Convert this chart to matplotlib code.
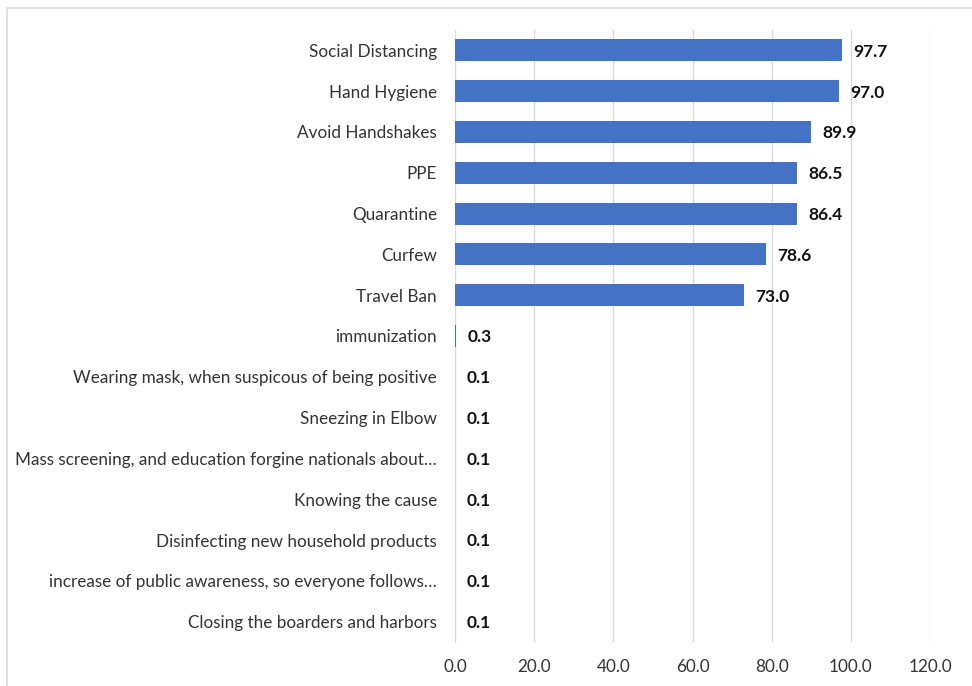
import matplotlib.pyplot as plt
from matplotlib.patches import Rectangle

measures = [
    'Social Distancing',
    'Hand Hygiene',
    'Avoid Handshakes',
    'PPE',
    'Quarantine',
    'Curfew',
    'Travel Ban',
    'immunization',
    'Wearing mask, when suspicous of being positive',
    'Sneezing in Elbow',
    'Mass screening, and education forgine nationals about\u2026',
    'Knowing the cause',
    'Disinfecting new household products',
    'increase of public awareness, so everyone follows\u2026',
    'Closing the boarders and harbors',
]
percent = [97.7, 97.0, 89.9, 86.5, 86.4, 78.6, 73.0, 0.3, 0.1, 0.1, 0.1, 0.1, 0.1, 0.1, 0.1]
xticks = [0, 20, 40, 60, 80, 100, 120]

plt.rcParams['font.family'] = ['Lato', 'DejaVu Sans']

fig = plt.figure(figsize=(9.72, 6.86), dpi=100)
ax = fig.add_axes([455 / 972, 1 - 642 / 686, 475 / 972, 612 / 686])

# chart frame like the Excel chart area
fig.patches.append(Rectangle((7 / 972, -0.1), 1.2, 1.1 - 8 / 686, transform=fig.transFigure,
                             fill=False, edgecolor='#D9D9D9', linewidth=1.2))

ypos = list(range(len(measures)))
ax.barh(ypos, percent, height=0.54, color='#4472C4', zorder=3)
for y, v in zip(ypos, percent):
    ax.annotate(f'{v:.1f}', (v, y), xytext=(8, -1), textcoords='offset points',
                va='center', ha='left', fontsize=12.5, fontweight='bold', color='#111111')

ax.set_ylim(len(measures) - 0.5, -0.5)
ax.set_xlim(0, 120)
ax.set_xticks(xticks)
ax.set_xticklabels([f'{t:.1f}' for t in xticks])
ax.set_yticks(ypos)
ax.set_yticklabels(measures)
ax.tick_params(axis='both', length=0, labelsize=12.3, colors='#333333')
ax.tick_params(axis='y', pad=13)
ax.tick_params(axis='x', pad=12)
ax.grid(axis='x', color='#D9D9D9', linewidth=1, zorder=0)
for s in ['top', 'right', 'bottom']:
    ax.spines[s].set_visible(False)
ax.spines['left'].set_color('#D9D9D9')

fig.savefig('out.png', dpi=100)
